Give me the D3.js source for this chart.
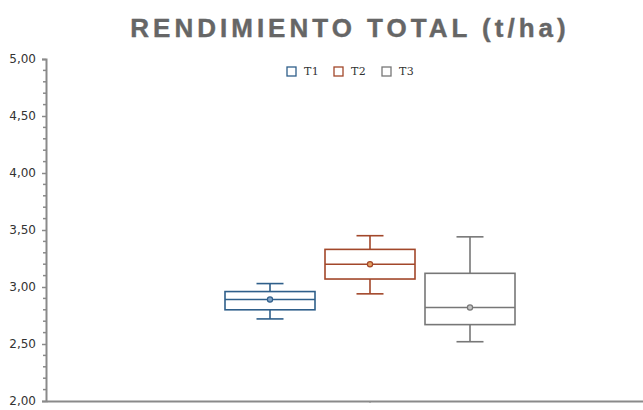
<!DOCTYPE html>
<html lang="es">
<head>
<meta charset="UTF-8">
<title>Rendimiento total (t/ha)</title>
<script src="https://d3js.org/d3.v7.min.js"></script>
<style>
  body { margin: 0; padding: 0; background: #fff; }
  svg { display: block; }
  .title { font-family: "Liberation Sans", Arial, sans-serif; font-weight: bold; font-size: 26px; letter-spacing: 4px; fill: #666; stroke: #666; stroke-width: 0.4px; }
  .ytick text { font-family: "DejaVu Sans", Verdana, sans-serif; font-size: 12px; fill: #333; }
  .legend text { font-family: "DejaVu Serif", "Liberation Serif", serif; font-size: 11px; letter-spacing: 0.5px; fill: #333; }
</style>
</head>
<body>
<svg id="chart"></svg>
<script>
// Data: box-plot statistics
const treatments = ["T1", "T2", "T3"];
const whiskerLow  = [2.72, 2.94, 2.52];
const q1          = [2.80, 3.07, 2.67];
const medians     = [2.89, 3.20, 2.82];
const q3          = [2.96, 3.33, 3.12];
const whiskerHigh = [3.03, 3.45, 3.44];
const means       = [2.89, 3.20, 2.82];
const yTicks = [2.0, 2.5, 3.0, 3.5, 4.0, 4.5, 5.0];

const strokeColors = ["#2f5f8a", "#a2472a", "#777777"];
const meanFill     = ["#7fa2c6", "#e3a062", "#c4c4c4"];

const W = 643, H = 410;
const margin = { top: 59, right: -51, bottom: 9, left: 46 };

const svg = d3.select("#chart").attr("width", W).attr("height", H);

const y = d3.scaleLinear().domain([2, 5]).range([H - margin.bottom, margin.top]);
const x = d3.scaleBand().domain([""]).range([margin.left, W - margin.right]);
const inner = d3.scaleBand().domain(treatments)
  .range([x("") + x.bandwidth() / 2 - 150, x("") + x.bandwidth() / 2 + 150])
  .paddingInner(0.1).paddingOuter(0.05);

// Title
svg.append("text").attr("class", "title")
  .attr("x", 350).attr("y", 37).attr("text-anchor", "middle")
  .text("RENDIMIENTO TOTAL (t/ha)");

// Y axis with minor ticks
const axisColor = "#8a8a8a";
const yAxis = svg.append("g").attr("transform", `translate(${margin.left},0)`);
yAxis.call(d3.axisLeft(y).tickValues(yTicks).tickSize(4).tickPadding(6)
  .tickFormat(d => d3.format(".2f")(d).replace(".", ",")));
yAxis.selectAll(".tick").attr("class", "tick ytick");
yAxis.select(".domain").attr("stroke", axisColor).attr("stroke-width", 2);
yAxis.selectAll(".tick line").attr("stroke", axisColor).attr("stroke-width", 1.5);
const minor = d3.range(2, 5.001, 0.1).filter(v => Math.abs(v * 2 - Math.round(v * 2)) > 0.01);
yAxis.selectAll(".minor").data(minor).enter().append("line")
  .attr("x1", -3).attr("x2", 0)
  .attr("y1", d => y(d)).attr("y2", d => y(d))
  .attr("stroke", axisColor).attr("stroke-width", 1.5);

// X axis
const xAxis = svg.append("g").attr("transform", `translate(0,${y(2)})`);
xAxis.call(d3.axisBottom(x).tickSize(2).tickSizeOuter(0).tickFormat(""));
xAxis.select(".domain").attr("stroke", axisColor).attr("stroke-width", 2);
xAxis.selectAll(".tick line").attr("stroke", axisColor).attr("stroke-width", 1);

// Boxes
const bw = inner.bandwidth();
const capW = 27;
treatments.forEach((t, i) => {
  const cx = inner(t) + bw / 2;
  const g = svg.append("g").attr("stroke", strokeColors[i]).attr("stroke-width", 1.6).attr("fill", "none");
  // whiskers
  g.append("line").attr("x1", cx).attr("x2", cx).attr("y1", y(whiskerHigh[i])).attr("y2", y(q3[i]));
  g.append("line").attr("x1", cx).attr("x2", cx).attr("y1", y(q1[i])).attr("y2", y(whiskerLow[i]));
  g.append("line").attr("x1", cx - capW / 2).attr("x2", cx + capW / 2).attr("y1", y(whiskerHigh[i])).attr("y2", y(whiskerHigh[i]));
  g.append("line").attr("x1", cx - capW / 2).attr("x2", cx + capW / 2).attr("y1", y(whiskerLow[i])).attr("y2", y(whiskerLow[i]));
  // box
  g.append("rect").attr("x", inner(t)).attr("width", bw)
    .attr("y", y(q3[i])).attr("height", y(q1[i]) - y(q3[i])).attr("fill", "#fff");
  g.append("line").attr("x1", inner(t)).attr("x2", inner(t) + bw).attr("y1", y(medians[i])).attr("y2", y(medians[i]));
  // mean
  g.append("circle").attr("cx", cx).attr("cy", y(means[i])).attr("r", 2.6)
    .attr("fill", meanFill[i]).attr("stroke-width", 1.2);
});

// Legend
const legendX = [287, 334, 382];
const legend = svg.append("g").attr("class", "legend");
treatments.forEach((t, i) => {
  legend.append("rect").attr("x", legendX[i]).attr("y", 67).attr("width", 9).attr("height", 9)
    .attr("fill", "#fff").attr("stroke", strokeColors[i]).attr("stroke-width", 1.3);
  legend.append("text").attr("x", legendX[i] + 17).attr("y", 75).text(t);
});
</script>
</body>
</html>
